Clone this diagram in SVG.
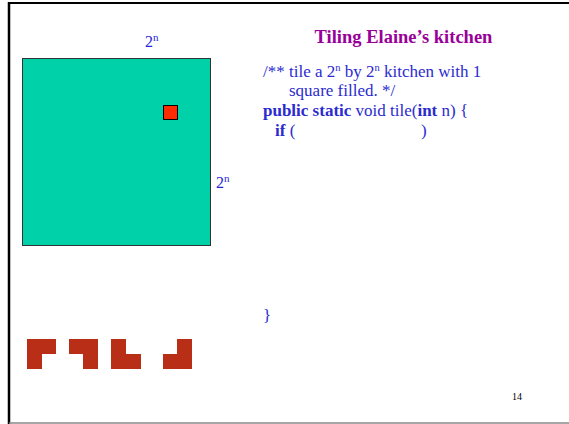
<svg xmlns="http://www.w3.org/2000/svg" width="569" height="424" viewBox="0 0 569 424">
<style>
.t{font-family:"Liberation Serif","Times New Roman",serif;fill:#2B2BD0;font-size:17px}
.b{font-weight:bold}
.lbl{font-family:"Liberation Serif","Times New Roman",serif;fill:#2626D9;font-size:16px}
.tile{fill:#B92E16}
</style>
<rect x="0" y="0" width="569" height="424" fill="#fff"/>
<line x1="9" y1="2" x2="9" y2="424" stroke="#000" stroke-width="2.5"/>
<line x1="8" y1="3" x2="569" y2="3" stroke="#000" stroke-width="2"/>
<line x1="9" y1="423" x2="569" y2="423" stroke="#888" stroke-width="1.5"/>
<g id="kitchen">
<rect x="22.5" y="58.5" width="188" height="187" fill="#00D1A8" stroke="#333" stroke-width="1"/>
</g>
<g id="filled">
<rect x="163.5" y="105.5" width="14" height="14" fill="#FF2A00" stroke="#000" stroke-width="1"/>
</g>
<g id="labels">
<text class="lbl" x="145" y="47">2<tspan font-size="11" dy="-6">n</tspan></text>
<text class="lbl" x="216" y="188">2<tspan font-size="11" dy="-6">n</tspan></text>
</g>
<text x="403.5" y="43" text-anchor="middle" font-family="Liberation Serif,serif" font-weight="bold" font-size="18.5" fill="#990099">Tiling Elaine’s kitchen</text>
<g id="code">
<text class="t" x="263" y="76.5">/** tile a 2<tspan font-size="10.5" dy="-6">n</tspan><tspan dy="6"> by 2</tspan><tspan font-size="10.5" dy="-6">n</tspan><tspan dy="6"> kitchen with 1</tspan></text>
<text class="t" x="289" y="96">square filled. */</text>
<text class="t" x="263" y="115.5"><tspan class="b">public static</tspan> void tile(<tspan class="b">int</tspan> n) {</text>
<text class="t" x="275" y="135.5"><tspan class="b">if</tspan> (</text>
<text class="t" x="421" y="135.5">)</text>
<text class="t" x="263" y="321">}</text>
</g>
<text x="512" y="400" font-family="Liberation Serif,serif" font-size="10" fill="#000">14</text>
<g id="tiles">
<path class="tile" d="M27 339H56V354H42V369H27Z"/>
<path class="tile" d="M69 339H98V369H83V354H69Z"/>
<path class="tile" d="M111 339H126V354H141V369H111Z"/>
<path class="tile" d="M177 339H192V369H163V354H177Z"/>
</g>
</svg>
